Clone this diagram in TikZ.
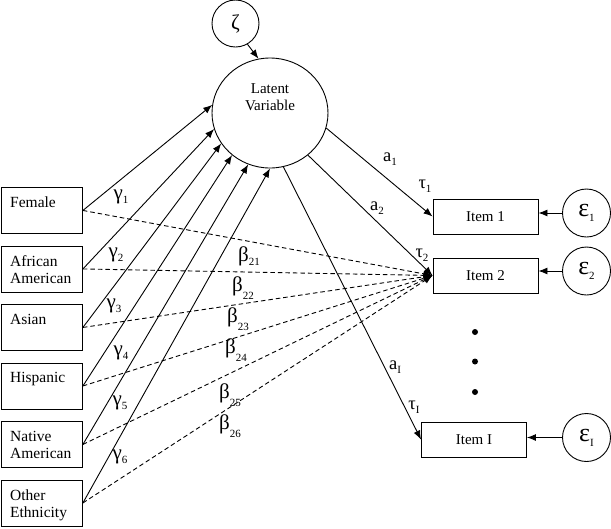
\documentclass[tikz,border=0pt]{standalone}
\usepackage{fontspec}
\setmainfont{Liberation Serif}
\usetikzlibrary{arrows.meta,shapes.geometric}
\newcommand\mysub[1]{\raisebox{-0.2em}{\fontsize{11}{11}\selectfont #1}}
\newcommand\mysubl[1]{\raisebox{-0.4em}{\fontsize{11}{11}\selectfont #1}}
\begin{document}
\begin{tikzpicture}[x=1pt,y=-1pt,
  pbox/.style={draw, line width=0.9pt, minimum width=81pt, minimum height=46pt, anchor=north west, inner sep=0pt},
  ptxt/.style={anchor=north west, inner sep=0pt, align=left, font=\fontsize{15.5}{17}\selectfont},
  ibox/.style={draw, line width=0.9pt, minimum width=105pt, minimum height=35pt, inner sep=0pt, font=\fontsize{15}{17}\selectfont},
  err/.style={draw, circle, line width=0.9pt, minimum size=48pt, inner sep=0pt, font=\fontsize{26}{26}\selectfont},
  arr/.style={line width=0.9pt, -{Latex[length=9pt,width=7pt]}},
  darr/.style={arr, dash pattern=on 4.5pt off 3pt},
  lab/.style={font=\fontsize{21}{22}\selectfont, inner sep=0pt},
  labs/.style={font=\fontsize{18.5}{19}\selectfont, inner sep=0pt},
  dot/.style={circle, fill, minimum size=6pt, inner sep=0pt}]
\useasboundingbox (0,0) rectangle (611,528);

% latent variable and disturbance
\node[draw, ellipse, line width=0.9pt, minimum width=116pt, minimum height=110pt, inner sep=0pt] (lat) at (270,113) {};
\node[font=\fontsize{15}{17}\selectfont, align=center, inner sep=0pt] (latt) at (270,97.5) {Latent\\Variable};
\node[draw, circle, line width=0.9pt, minimum size=47pt, inner sep=0pt, font=\fontsize{21}{21}\selectfont] (z) at (235.5,23.5) {ζ};
\draw[arr] (z.-60) -- (lat.102);

% predictor boxes
\node[pbox] (fem) at (1,187) {};
\node[pbox] (afa) at (1,245.5) {};
\node[pbox] (asi) at (1,304) {};
\node[pbox] (his) at (1,362.5) {};
\node[pbox] (nat) at (1,421) {};
\node[pbox] (oth) at (1,479.5) {};
\node[ptxt] (femt) at (10,197) {Female};
\node[ptxt] (afat) at (10,255.5) {African\\American};
\node[ptxt] (asit) at (10,314) {Asian};
\node[ptxt] (hist) at (10,372.5) {Hispanic};
\node[ptxt] (natt) at (10,431) {Native\\American};
\node[ptxt] (otht) at (10,489.5) {Other\\Ethnicity};

% items
\node[ibox] (i1) at (485.5,216.5) {Item 1};
\node[ibox] (i2) at (485.5,275.5) {Item 2};
\node[ibox] (iI) at (474,439.5) {Item I};
\node[err] (e1) at (586.5,213) {ε\mysub{1}};
\node[err] (e2) at (586.5,271) {ε\mysub{2}};
\node[err] (eI) at (586.5,437.5) {ε\mysub{I}};
\draw[arr] (e1.west) -- (e1.west -| i1.east);
\draw[arr] (e2.west) -- (e2.west -| i2.east);
\draw[arr] (eI.west) -- (eI.west -| iI.east);
\node[dot] (d1) at (475,332) {};
\node[dot] (d2) at (475,361.5) {};
\node[dot] (d3) at (475,392) {};

% gamma paths
\draw[arr] (fem.east) -- (lat.172);
\draw[arr] (afa.east) -- (lat.196);
\draw[arr] (asi.east) -- (lat.212);
\draw[arr] (his.east) -- (lat.228);
\draw[arr] (nat.east) -- (lat.247);
\draw[arr] (oth.east) -- (lat.270);

% beta paths
\draw[darr] (fem.east) -- (i2.west);
\draw[darr] (afa.east) -- (i2.west);
\draw[darr] (asi.east) -- (i2.west);
\draw[darr] (his.east) -- (i2.west);
\draw[darr] (nat.east) -- (i2.west);
\draw[darr] (oth.east) -- (i2.west);

% loadings
\draw[arr] (lat.-15) -- (i1.west);
\draw[arr] (lat.-48) -- (i2.west);
\draw[arr] (lat.-76) -- (iI.west);

% labels
\node[lab] (g1) at (121,197) {γ\mysub{1}};
\node[lab] (g2) at (116,255) {γ\mysub{2}};
\node[lab] (g3) at (114,306) {γ\mysub{3}};
\node[lab] (g4) at (121,353) {γ\mysub{4}};
\node[lab] (g5) at (120,403) {γ\mysub{5}};
\node[lab] (g6) at (120,457) {γ\mysub{6}};
\node[lab] (b21) at (249,256) {β\mysub{21}};
\node[lab] (b22) at (243,288) {β\mysubl{22}};
\node[lab] (b23) at (238,319) {β\mysubl{23}};
\node[lab] (b24) at (236,350) {β\mysubl{24}};
\node[lab] (b25) at (230,395) {β\mysubl{25}};
\node[lab] (b26) at (230,426) {β\mysubl{26}};
\node[labs] (a1) at (390,159) {a\mysub{1}};
\node[labs] (t1) at (425,186) {τ\mysub{1}};
\node[labs] (a2) at (377,208) {a\mysub{2}};
\node[labs] (t2) at (422,255) {τ\mysub{2}};
\node[labs] (aI) at (395,367) {a\mysub{I}};
\node[labs] (tI) at (414,407) {τ\mysub{I}};
\end{tikzpicture}
\end{document}
